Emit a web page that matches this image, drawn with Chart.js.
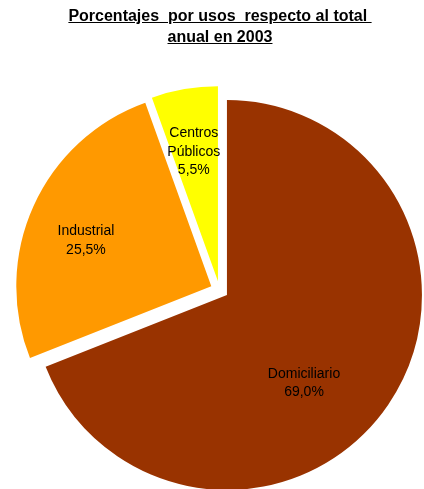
<!DOCTYPE html>
<html lang="es">
<head>
    <meta charset="UTF-8">
    <title>Porcentajes por usos</title>
    <script src="https://cdn.jsdelivr.net/npm/chart.js"></script>
    <style>
        body {
            margin: 0;
            padding: 0;
            background: #ffffff;
            font-family: "Liberation Sans", Arial, sans-serif;
        }
        .wrap {
            position: relative;
            width: 424px;
            height: 489px;
        }
        .title {
            position: absolute;
            top: 5px;
            left: 16px;
            right: 0;
            text-align: center;
            font-weight: bold;
            font-size: 16px;
            line-height: 21.4px;
            text-decoration: underline;
            white-space: pre;
            color: #000;
            z-index: 2;
        }
        canvas {
            position: absolute;
            left: 0;
            top: 0;
        }
    </style>
</head>
<body>
    <div class="wrap">
        <div class="title">Porcentajes  por usos  respecto al total <br>anual en 2003</div>
        <canvas id="pieChart" width="424" height="489"></canvas>
    </div>

    <script>
        // data
        const usos = ['Domiciliario', 'Industrial', ['Centros', 'Públicos']];
        const porcentajes = [69.0, 25.5, 5.5];
        const colores = ['#993300', '#FF9900', '#FFFF00'];

        // label placement inside each slice (fraction of radius, angle shift in degrees)
        const labelRadius = [0.6, 0.684, 0.673];
        const labelShift = [14.6, -4.3, -0.7];

        // every slice pulled out from the centre by this many pixels
        const explode = 9;

        function fmt(v) {
            return v.toFixed(1).replace('.', ',') + '%';
        }

        function shiftOf(arc) {
            const p = arc.getProps(['startAngle', 'endAngle'], true);
            const mid = (p.startAngle + p.endAngle) / 2;
            return { dx: Math.cos(mid) * explode, dy: Math.sin(mid) * explode, mid };
        }

        // draw the library's arcs, each moved out along its middle angle
        const explodedArcs = {
            id: 'explodedArcs',
            beforeDatasetDraw(chart, args) {
                const ctx = chart.ctx;
                args.meta.data.forEach(arc => {
                    const s = shiftOf(arc);
                    ctx.save();
                    ctx.translate(s.dx, s.dy);
                    arc.draw(ctx);
                    ctx.restore();
                });
                return false;
            }
        };

        const sliceLabels = {
            id: 'sliceLabels',
            afterDatasetsDraw(chart) {
                const ctx = chart.ctx;
                const meta = chart.getDatasetMeta(0);
                ctx.save();
                ctx.font = '14px "Liberation Sans", Arial, sans-serif';
                ctx.fillStyle = '#000';
                ctx.textAlign = 'center';
                ctx.textBaseline = 'middle';
                meta.data.forEach((arc, i) => {
                    const p = arc.getProps(['x', 'y', 'outerRadius'], true);
                    const s = shiftOf(arc);
                    const a = s.mid + labelShift[i] * Math.PI / 180;
                    const r = p.outerRadius * labelRadius[i];
                    const lx = p.x + s.dx + Math.cos(a) * r;
                    const ly = p.y + s.dy + Math.sin(a) * r;
                    const name = Array.isArray(usos[i]) ? usos[i] : [usos[i]];
                    const lines = name.concat([fmt(porcentajes[i])]);
                    const lh = 18.5;
                    const top = ly - (lines.length - 1) * lh / 2;
                    lines.forEach((t, k) => ctx.fillText(t, lx, top + k * lh));
                });
                ctx.restore();
            }
        };

        new Chart(document.getElementById('pieChart'), {
            type: 'pie',
            data: {
                labels: usos,
                datasets: [{
                    data: porcentajes,
                    backgroundColor: colores,
                    borderWidth: 0
                }]
            },
            options: {
                responsive: false,
                animation: false,
                radius: 195,
                layout: { padding: { left: 15, right: 0, top: 91, bottom: 0 } },
                plugins: {
                    legend: { display: false },
                    tooltip: { enabled: false }
                }
            },
            plugins: [explodedArcs, sliceLabels]
        });
    </script>
</body>
</html>
